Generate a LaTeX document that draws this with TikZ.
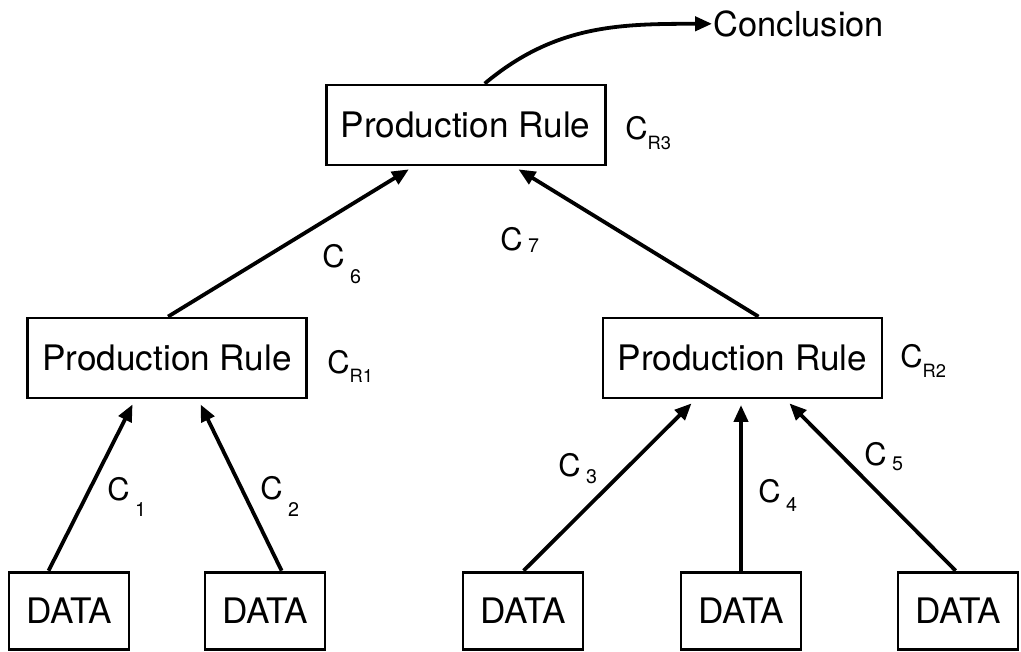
\documentclass[tikz,border=0pt]{standalone}
\usepackage{fontspec}
\setmainfont{TeX Gyre Heros}
\usetikzlibrary{arrows.meta}
\newcommand{\clab}[2][-11pt]{C\kern4pt\raisebox{#1}{\fontsize{14}{14}\selectfont #2}}
\newcommand{\crlab}[1]{C\raisebox{-7pt}{\fontsize{13}{13}\selectfont R#1}}
\begin{document}
\begin{tikzpicture}[every node/.style={font=\fontsize{25}{29}\selectfont},
  rulebox/.style={draw, line width=2pt, minimum width=6.975cm, minimum height=2cm, inner sep=0pt},
  databox/.style={draw, line width=2pt, minimum width=3cm, minimum height=1.925cm, inner sep=0pt},
  conn/.style={line width=2.7pt, -{Triangle[length=12pt,width=10pt]}, shorten >=4pt},
  lab/.style={anchor=base west, inner sep=0pt, font=\fontsize{22}{26}\selectfont}]
\useasboundingbox (0,0) rectangle (25.525,16.275);
% boxes
\node[rulebox] (top) at (11.64,13.15) {Production Rule};
\node[rulebox] (r1) at (4.175,7.325) {Production Rule};
\node[rulebox] (r2) at (18.56,7.325) {Production Rule};
\node[databox] (d1) at (1.725,1.01) {DATA};
\node[databox] (d2) at (6.625,1.01) {DATA};
\node[databox] (d3) at (13.075,1.01) {DATA};
\node[databox] (d4) at (18.525,1.01) {DATA};
\node[databox] (d5) at (23.95,1.01) {DATA};
\node[anchor=west, inner sep=1pt, font=\fontsize{24.5}{28}\selectfont] (concl) at (17.8,15.68) {Conclusion};
% connectors
\draw[conn] ([xshift=1.025cm]d1.north west) -- ([xshift=2.725cm]r1.south west);
\draw[conn] ([xshift=1.95cm]d2.north west) -- ([xshift=4.3cm]r1.south west);
\draw[conn] ([xshift=1.55cm]d3.north west) -- ([xshift=2.35cm]r2.south west);
\draw[conn] (d4.north) -- (d4.north |- r2.south);
\draw[conn] ([xshift=1.475cm]d5.north west) -- ([xshift=4.6cm]r2.south west);
\draw[conn] ([xshift=3.55cm]r1.north west) -- ([xshift=2.225cm]top.south west);
\draw[conn] ([xshift=3.925cm]r2.north west) -- ([xshift=4.725cm]top.south west);
\draw[conn, shorten >=0pt] ([xshift=4cm]top.north west) to[out=40, in=180] (concl.west);
% labels
\node[lab] (c1) at (2.675,3.775) {\clab[-12pt]{1}};
\node[lab] (c2) at (6.5,3.8) {\clab[-12.5pt]{2}};
\node[lab] (c3) at (13.95,4.375) {\clab[-5.5pt]{3}};
\node[lab] (c4) at (18.95,3.725) {\clab[-7pt]{4}};
\node[lab] (c5) at (21.6,4.65) {\clab[-4pt]{5}};
\node[lab] (c6) at (8.05,9.575) {\clab[-11pt]{6}};
\node[lab] (c7) at (12.5,10.0) {\clab[-1pt]{7}};
\node[lab] (cr1) at (8.175,6.95) {\crlab{1}};
\node[lab] (cr2) at (22.5,7.075) {\crlab{2}};
\node[lab] (cr3) at (15.625,12.775) {\crlab{3}};
\end{tikzpicture}
\end{document}
